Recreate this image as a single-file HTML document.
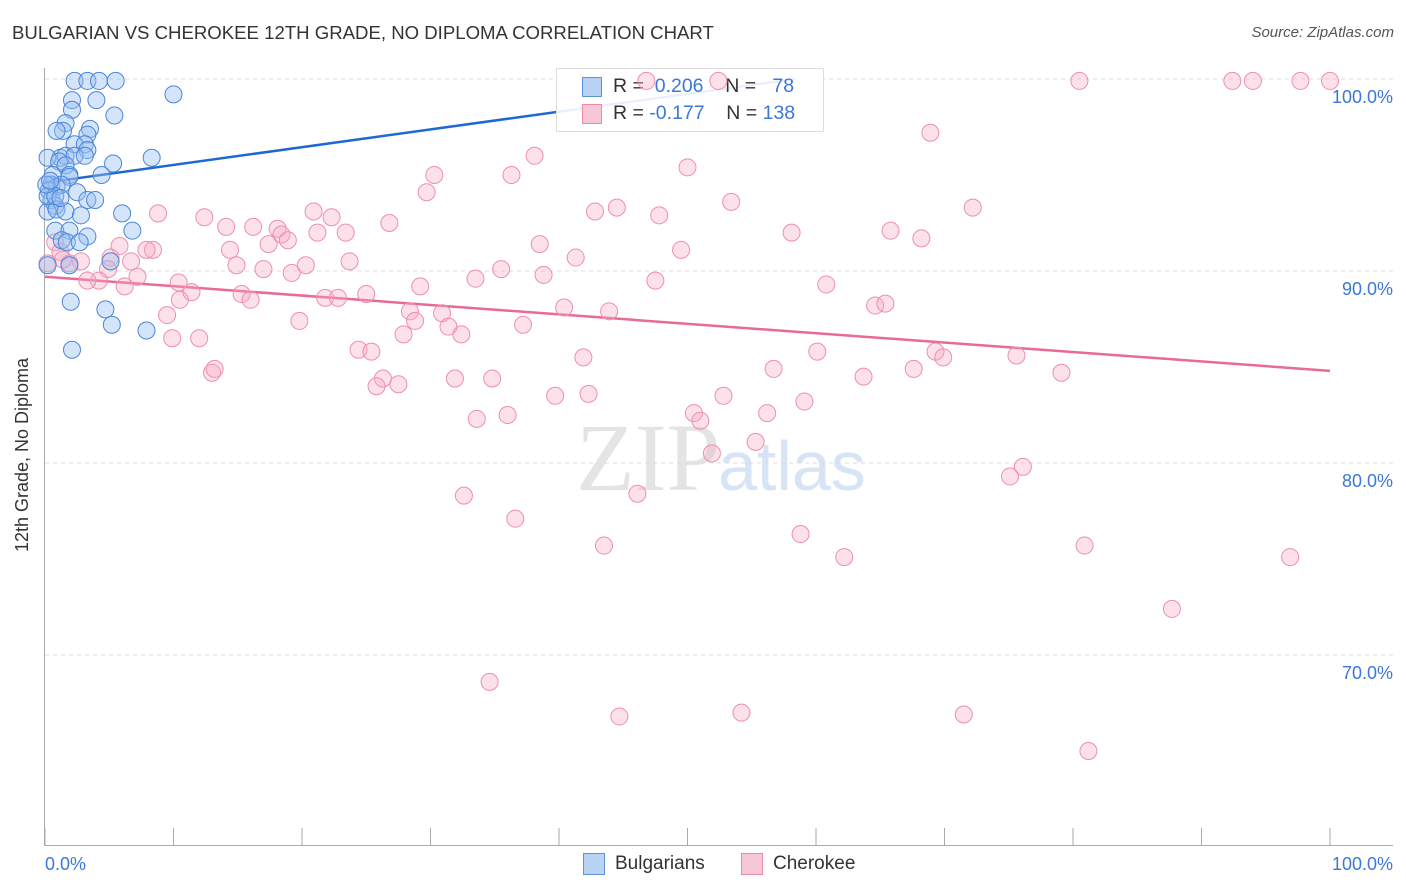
<!DOCTYPE html>
<html><head><meta charset="utf-8">
<style>
body{margin:0;background:#fff;font-family:"Liberation Sans",sans-serif;}
#wrap{position:relative;width:1406px;height:892px;overflow:hidden;}
.t{position:absolute;white-space:nowrap;}
</style></head>
<body>
<div id="wrap">
<div class="t" style="left:12px;top:22px;font-size:18.6px;color:#333;">BULGARIAN VS CHEROKEE 12TH GRADE, NO DIPLOMA CORRELATION CHART</div>
<div class="t" style="right:12px;top:24px;font-size:15px;color:#555;font-style:italic;">Source: ZipAtlas.com</div>
<svg id="svg" width="1406" height="892" style="position:absolute;left:0;top:0">
<text x="720" y="490" text-anchor="end" font-family="Liberation Serif" font-size="96" fill="#e4e4e4">ZIP</text>
<text x="718" y="490" font-family="Liberation Sans" font-size="70" fill="#d6e4f5">atlas</text>
<g id="grid"></g><g id="lines"></g>
<text x="28" y="455" transform="rotate(-90 28 455)" text-anchor="middle" font-size="18" fill="#333">12th Grade, No Diploma</text>
</svg>
<div style="position:absolute;left:556px;top:68px;width:266px;height:62px;background:rgba(255,255,255,0.9);border:1px solid #ddd;">
 <div style="position:absolute;left:25px;top:8px;width:18px;height:18px;background:#b9d3f5;border:1px solid #5b93dd;"></div>
 <div class="t" style="left:56px;top:6px;font-size:19.5px;color:#333;">R = <span style="color:#3b78d8">&nbsp;0.206</span>&nbsp;&nbsp;&nbsp; N = <span style="color:#3b78d8">&nbsp;&nbsp;78</span></div>
 <div style="position:absolute;left:25px;top:35px;width:18px;height:18px;background:#f8c7d6;border:1px solid #e98aa8;"></div>
 <div class="t" style="left:56px;top:33px;font-size:19.5px;color:#333;">R = <span style="color:#3b78d8">-0.177</span>&nbsp;&nbsp;&nbsp; N = <span style="color:#3b78d8">138</span></div>
</div>
<svg id="svg2" width="1406" height="892" style="position:absolute;left:0;top:0;pointer-events:none"><g id="pts"></g></svg>
<div style="position:absolute;left:583px;top:853px;width:20px;height:20px;background:#b9d3f5;border:1px solid #5b93dd;"></div>
<div class="t" style="left:615px;top:853px;font-size:19px;color:#333;">Bulgarians</div>
<div style="position:absolute;left:741px;top:853px;width:20px;height:20px;background:#f8c7d6;border:1px solid #e98aa8;"></div>
<div class="t" style="left:773px;top:853px;font-size:19px;color:#333;">Cherokee</div>
</div>
<script>
const yTicks=[100,90,80,70];
const yTickLabels=["100.0%","90.0%","80.0%","70.0%"];
const xEndLabels=["0.0%","100.0%"];
const blueX=[2.3,3.3,4.2,5.5,10.0,2.1,4.0,2.1,5.4,1.6,1.4,3.5,3.3,0.9,2.3,3.1,3.3,1.2,0.2,1.6,2.3,3.1,5.3,8.3,1.1,1.6,1.9,1.9,4.4,0.6,0.5,0.9,0.3,1.3,2.5,3.3,3.9,0.5,0.8,0.2,0.9,1.6,2.8,6.0,0.8,1.9,3.3,6.8,1.3,1.7,2.7,0.2,1.9,5.1,2.0,4.7,5.2,7.9,2.1,0.2,0.8,1.2,0.1,0.4];
const blueY=[99.9,99.9,99.9,99.9,99.2,98.9,98.9,98.4,98.1,97.7,97.3,97.4,97.1,97.3,96.6,96.6,96.3,95.9,95.9,96.0,96.0,96.0,95.6,95.9,95.7,95.5,95.0,94.9,95.0,95.0,94.5,94.4,94.2,94.5,94.1,93.7,93.7,93.7,93.4,93.1,93.2,93.1,92.9,93.0,92.1,92.1,91.8,92.1,91.6,91.5,91.5,90.3,90.3,90.5,88.4,88.0,87.2,86.9,85.9,93.9,93.9,93.8,94.5,94.7];
const pinkX=[80.5,92.4,94.0,97.7,100.0,46.8,52.4,68.9,38.1,50.0,36.3,30.3,29.7,53.4,42.8,44.5,47.8,72.2,8.8,12.4,14.1,16.2,18.1,20.9,22.3,26.8,23.4,21.2,18.4,18.9,38.5,49.5,58.1,65.8,68.2,5.8,8.4,7.9,14.4,17.4,41.3,23.7,14.9,17.0,19.2,20.3,35.5,38.8,33.5,5.1,6.7,2.8,4.9,1.9,10.4,10.5,11.4,4.2,3.3,6.2,7.2,47.5,60.8,15.3,16.0,21.8,22.8,25.0,29.2,9.5,19.8,28.4,30.9,28.8,31.4,32.4,37.2,40.4,43.9,64.6,65.4,9.9,12.0,27.9,24.4,25.4,60.1,69.3,69.9,75.6,41.9,13.0,13.2,56.7,63.7,67.6,79.1,26.3,25.8,27.5,31.9,34.8,42.3,39.7,52.8,59.1,56.2,36.0,33.6,50.5,51.0,55.3,51.9,76.1,75.1,32.6,46.1,36.6,43.5,58.8,62.2,80.9,96.9,87.7,34.6,44.7,54.2,71.5,81.2,0.8,1.2,1.4,0.2];
const pinkY=[99.9,99.9,99.9,99.9,99.9,99.9,99.9,97.2,96.0,95.4,95.0,95.0,94.1,93.6,93.1,93.3,92.9,93.3,93.0,92.8,92.3,92.3,92.2,93.1,92.8,92.5,92.0,92.0,91.9,91.6,91.4,91.1,92.0,92.1,91.7,91.3,91.1,91.1,91.1,91.4,90.7,90.5,90.3,90.1,89.9,90.3,90.1,89.8,89.6,90.7,90.5,90.5,90.1,90.4,89.4,88.5,88.9,89.5,89.5,89.2,89.7,89.5,89.3,88.8,88.5,88.6,88.6,88.8,89.2,87.7,87.4,87.9,87.8,87.4,87.1,86.7,87.2,88.1,87.9,88.2,88.3,86.5,86.5,86.7,85.9,85.8,85.8,85.8,85.5,85.6,85.5,84.7,84.9,84.9,84.5,84.9,84.7,84.4,84.0,84.1,84.4,84.4,83.6,83.5,83.5,83.2,82.6,82.5,82.3,82.6,82.2,81.1,80.5,79.8,79.3,78.3,78.4,77.1,75.7,76.3,75.1,75.7,75.1,72.4,68.6,66.8,67.0,66.9,65.0,91.5,91.0,90.6,90.4];
const blueTrendX=[0,58.4];
const blueTrendY=[94.6,100.0];
const pinkTrendX=[0,100];
const pinkTrendY=[89.7,84.8];

const X=v=>45+v*12.85;
const Y=v=>79+(100-v)*19.2;
const NS="http://www.w3.org/2000/svg";
function mk(tag,attrs,parent){const e=document.createElementNS(NS,tag);for(const k in attrs)e.setAttribute(k,attrs[k]);parent.appendChild(e);return e;}
const grid=document.getElementById('grid'),pts=document.getElementById('pts'),lines=document.getElementById('lines');
yTicks.forEach((t,i)=>{
  const l=mk('line',{x1:45,x2:1393,y1:Y(t),y2:Y(t),stroke:'#dcdcdc','stroke-dasharray':'4,4'},grid);
  
  
  const tx=mk('text',{x:1393,y:Y(t)+24,'text-anchor':'end','font-size':18,fill:'#3b78d8'},grid);
  tx.textContent=yTickLabels[i];
  
  
});
const ax=mk('line',{x1:44.5,x2:44.5,y1:68,y2:846,stroke:'#aaa'},grid);


const bx=mk('line',{x1:44,x2:1393,y1:845.5,y2:845.5,stroke:'#aaa'},grid);


for(let i=0;i<=10;i++){
  const tk=mk('line',{x1:X(i*10),x2:X(i*10),y1:828,y2:846,stroke:'#aaa'},grid);
  
  
}
const xl0=mk('text',{x:45,y:870,'font-size':18,fill:'#3b78d8'},grid);xl0.textContent=xEndLabels[0];


const xl1=mk('text',{x:1393,y:870,'text-anchor':'end','font-size':18,fill:'#3b78d8'},grid);xl1.textContent=xEndLabels[1];


pinkX.forEach((x,i)=>{
  const c=mk('circle',{cx:X(x),cy:Y(pinkY[i]),r:8.5,fill:'rgba(246,170,195,0.35)',stroke:'#ee8fad','stroke-width':1},pts);
  
  
});
blueX.forEach((x,i)=>{
  const c=mk('circle',{cx:X(x),cy:Y(blueY[i]),r:8.5,fill:'rgba(150,190,240,0.4)',stroke:'#4a86dd','stroke-width':1},pts);
  
  
});
const bl=mk('line',{x1:X(blueTrendX[0]),y1:Y(blueTrendY[0]),x2:X(blueTrendX[1]),y2:Y(blueTrendY[1]),stroke:'#1e68d4','stroke-width':2.5},lines);


const pl=mk('line',{x1:X(pinkTrendX[0]),y1:Y(pinkTrendY[0]),x2:X(pinkTrendX[1]),y2:Y(pinkTrendY[1]),stroke:'#e8699a','stroke-width':2.5},lines);


</script>
</body></html>
